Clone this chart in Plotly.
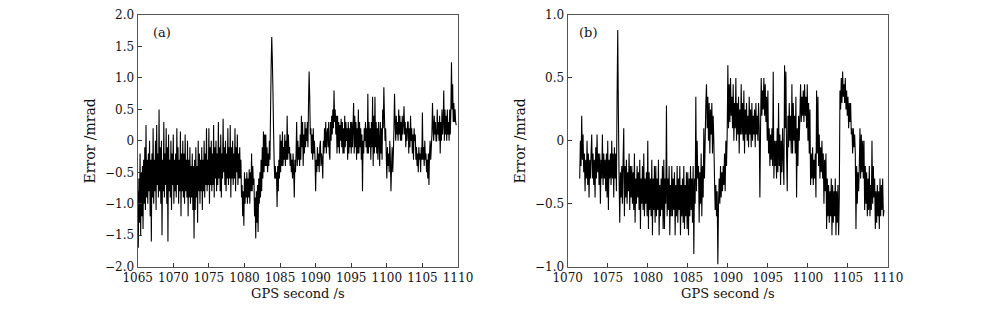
import numpy as np
import plotly.graph_objects as go

# ---------------- data ----------------
# Panel (a): samples every 1/12 s starting at 1065.0 s
t0_a = 1065.0
dt_a = 1.0 / 12.0
err_a = [
    -0.8, -1.7, -0.6, -1.3, -0.2, -1.5, -0.5, -1.2, -0.4, -1.4, -0.3, -1.0,
    -0.1, -1.1, 0.25, -0.9, -0.3, -1.0, -0.2, -0.8, 0.0, -1.2, -0.3, -1.6,
    -0.2, -0.9, 0.2, -1.0, -0.3, -0.8, 0.0, -1.1, 0.25, -0.7, -0.2, -0.9,
    0.5, -0.8, -0.1, -1.0, 0.0, -1.5, -0.3, -0.8, 0.3, -0.9, -0.2, -0.7,
    0.2, -1.0, -0.1, -1.6, 0.1, -0.8, -0.3, -0.9, 0.0, -1.1, -0.2, -0.7,
    0.1, -1.0, -0.3, -0.8, -0.2, -0.9, 0.2, -0.7, -0.1, -1.0, -0.3, -0.8,
    0.15, -1.2, -0.2, -0.8, 0.0, -0.9, -0.2, -1.0, 0.1, -0.8, -0.3, -0.9,
    0.0, -1.2, -0.3, -0.9, -0.1, -1.0, -0.4, -0.9, -0.2, -1.1, -0.4, -1.55,
    -0.3, -1.1, -0.1, -0.9, -0.4, -1.3, 0.0, -0.8, -0.2, -1.0, -0.3, -0.8,
    -0.1, -1.1, -0.3, -0.8, 0.0, -0.9, -0.2, -0.7, 0.2, -0.8, -0.3, -0.7,
    0.2, -1.0, -0.1, -0.7, 0.0, -0.8, -0.2, -0.7, 0.25, -0.9, -0.1, -0.6,
    0.0, -0.8, -0.2, -0.7, 0.3, -0.6, -0.1, -0.8, 0.1, -0.9, -0.2, -0.6,
    0.35, -0.5, -0.1, -0.7, 0.0, -0.8, -0.2, -0.6, 0.2, -0.7, -0.1, -0.6,
    0.25, -0.9, -0.1, -0.6, 0.0, -0.7, -0.2, -0.6, 0.2, -0.8, -0.1, -0.5,
    0.1, -0.7, -0.2, -0.6, -0.1, -0.6, -0.3, -0.9, -0.7, -1.2, -0.8, -1.35,
    -0.5, -1.0, -0.6, -0.9, -0.5, -1.0, -0.6, -0.9, -0.45, -1.0, -0.5, -0.8,
    -0.2, -0.8, -0.4, -0.7, -0.6, -1.2, -0.9, -1.55, -0.8, -1.3, -0.7, -1.45,
    -0.6, -1.0, -0.5, -0.9, -0.3, -0.8, -0.1, -0.6, 0.15, -0.5, 0.1, -0.4,
    0.1, -0.4, -0.1, -0.5, -0.2, -0.4, 0.0, -0.3, 0.5, 1.2, 1.65, 1.3,
    0.8, 0.2, -0.3, -0.6, -0.4, -0.6, -0.5, -1.05, -0.4, -0.8, -0.3, -0.6,
    0.1, -0.5, 0.0, -0.4, 0.15, -0.4, -0.1, -0.3, 0.1, -0.4, 0.0, -0.3,
    0.4, -0.3, 0.1, -0.2, -0.1, -0.4, -0.2, -0.5, -0.3, -0.6, -0.2, -0.5,
    -0.9, -0.3, -0.5, -0.2, 0.3, -0.4, 0.0, -0.3, -0.1, -0.4, 0.1, -0.3,
    0.4, -0.1, 0.3, -0.4, 0.1, -0.2, 0.3, -0.1, 0.2, 0.0, 0.3, -0.1,
    0.6, 1.1, 0.7, 0.1, 0.2, -0.2, 0.1, -0.3, 0.2, -0.2, 0.0, -0.3,
    -0.8, -0.3, -0.5, -0.1, -0.4, -0.2, -0.5, -0.1, 0.0, -0.4, -0.2, -0.3,
    -0.6, 0.0, -0.2, 0.2, -0.1, 0.3, -0.2, 0.1, 0.2, -0.1, 0.3, -0.2,
    -0.3, 0.3, 0.0, 0.4, 0.1, 0.5, 0.2, 0.8, 0.3, 0.5, 0.1, 0.4,
    -0.2, 0.4, -0.1, 0.3, -0.2, 0.25, 0.0, 0.35, -0.1, 0.3, -0.2, 0.2,
    -0.2, 0.4, -0.1, 0.3, 0.0, 0.2, -0.3, 0.3, -0.2, 0.2, -0.1, 0.3,
    -0.2, 0.3, -0.1, 0.2, 0.6, -0.2, 0.4, -0.1, 0.3, -0.3, 0.2, -0.2,
    0.5, -0.2, 0.3, -0.1, 0.2, -0.3, 0.1, -0.8, 0.0, -0.2, 0.2, 0.0,
    0.3, -0.1, 0.2, -0.2, 0.75, -0.2, 0.3, -0.1, 0.2, -0.3, 0.3, -0.1,
    0.7, -0.4, 0.4, -0.2, 0.7, -0.1, 0.3, -0.2, 0.2, -0.3, 0.3, 0.0,
    -0.4, 0.3, -0.2, 0.2, -0.3, 0.5, 0.2, 0.85, 0.4, 0.0, 0.2, -0.2,
    -0.6, -0.1, -0.4, -0.2, -0.5, 0.0, -0.3, -0.8, -0.4, -0.1, -0.5, -0.2,
    0.2, 0.75, 0.3, 0.0, 0.4, 0.1, 0.3, 0.0, 0.5, 0.1, 0.4, 0.0,
    0.3, 0.0, 0.4, 0.1, 0.3, 0.55, 0.1, 0.3, -0.1, 0.2, 0.0, 0.3,
    0.3, -0.2, 0.2, -0.1, 0.4, 0.0, 0.2, -0.2, 0.1, -0.3, 0.2, 0.0,
    0.1, -0.3, -0.1, -0.4, -0.2, -0.5, -0.1, -0.3, -0.2, -0.5, -0.1, -0.3,
    0.45, -0.3, -0.1, -0.4, 0.0, -0.3, -0.2, -0.5, -0.3, -0.6, -0.2, -0.7,
    -0.2, 0.0, -0.3, -0.1, 0.1, 0.6, 0.2, 0.0, 0.4, 0.1, 0.3, 0.0,
    0.0, 0.5, 0.1, 0.3, 0.0, 0.4, -0.2, 0.3, 0.0, 0.5, 0.1, 0.3,
    0.8, 0.0, 0.5, 0.1, 0.4, 0.0, 0.5, 0.1, 0.3, 0.0, 0.5, 0.1,
    0.5, 1.25, 0.5, 0.9, 0.3, 0.6, 0.3, 0.5, 0.3, 0.25,
]

# Panel (b): samples every 1/12 s starting at 1071.5 s
t0_b = 1071.5
dt_b = 1.0 / 12.0
err_b = [
    -0.3, 0.0, -0.2, 0.2, -0.15, 0.05,
    -0.25, -0.1, -0.4, -0.15, -0.3, 0.0, -0.35, -0.1, -0.45, -0.15, -0.3, -0.1,
    0.05, -0.3, -0.1, -0.35, -0.15, -0.45, -0.05, -0.3, 0.05, -0.25, -0.1, -0.35,
    -0.1, -0.5, -0.15, -0.3, 0.05, -0.35, -0.1, -0.3, -0.15, -0.4, -0.1, -0.45,
    0.0, -0.55, -0.15, -0.3, -0.1, -0.35, 0.0, -0.3, -0.1, -0.45, -0.05, -0.3,
    -0.1, -0.4, 0.35, 0.88, 0.2, -0.3, -0.65, -0.25, -0.45, -0.2, -0.5, -0.15,
    0.1, -0.6, -0.2, -0.45, -0.15, -0.5, -0.25, -0.4, -0.1, -0.55, -0.2, -0.45,
    -0.2, -0.5, -0.25, -0.55, -0.1, -0.65, -0.3, -0.5, -0.2, -0.45, -0.25, -0.55,
    -0.15, -0.7, -0.3, -0.5, -0.2, -0.55, -0.1, -0.6, -0.3, -0.5, -0.25, -0.6,
    0.0, -0.7, -0.25, -0.55, -0.3, -0.6, -0.15, -0.75, -0.3, -0.55, -0.2, -0.65,
    -0.2, -0.6, -0.3, -0.55, -0.15, -0.75, -0.35, -0.6, -0.3, -0.55, -0.2, -0.7,
    -0.15, -0.7, -0.3, -0.5, 0.28, -0.6, -0.3, -0.55, -0.2, -0.75, -0.35, -0.6,
    -0.2, -0.6, -0.3, -0.55, -0.25, -0.75, -0.35, -0.6, -0.2, -0.65, -0.3, -0.55,
    -0.2, -0.75, -0.35, -0.6, -0.3, -0.65, -0.2, -0.7, -0.35, -0.6, -0.25, -0.7,
    -0.25, -0.75, -0.3, -0.6, -0.2, -0.55, -0.3, -0.65, -0.2, -0.9, -0.3, -0.5,
    0.35, -0.4, 0.0, -0.3, -0.2, -0.65, -0.25, -0.5, -0.1, -0.6, -0.2, -0.45,
    0.1, -0.3, 0.0, 0.3, 0.45, 0.1, 0.35, 0.0, 0.3, -0.1, 0.25, 0.05,
    0.3, -0.1, 0.2, 0.0, -0.3, -0.55, -0.35, -0.6, -0.4, -0.98, -0.5, -0.3,
    -0.5, -0.2, -0.45, -0.25, -0.4, -0.2, -0.35, -0.1, -0.4, 0.0, -0.2, 0.05,
    0.6, 0.1, 0.45, 0.15, 0.5, 0.2, 0.35, 0.1, 0.45, 0.0, 0.3, 0.1,
    0.5, 0.0, 0.3, 0.05, 0.35, -0.1, 0.25, 0.05, 0.45, 0.05, 0.3, 0.0,
    0.4, -0.1, 0.25, 0.05, 0.3, 0.0, 0.2, -0.05, 0.35, 0.05, 0.25, -0.05,
    0.3, 0.0, 0.2, 0.05, 0.25, -0.05, 0.3, 0.05, 0.2, 0.0, 0.3, 0.1,
    -0.45, 0.1, 0.5, 0.2, 0.4, 0.25, 0.5, 0.2, 0.45, 0.15, 0.35, 0.0,
    0.4, -0.1, 0.1, -0.2, 0.05, -0.15, 0.1, -0.2, 0.55, -0.3, 0.0, -0.2,
    0.0, -0.3, 0.1, -0.25, 0.3, -0.2, 0.05, -0.35, 0.0, -0.25, 0.1, -0.15,
    -0.35, 0.6, 0.1, 0.55, -0.1, -0.4, 0.2, -0.05, 0.3, 0.0, 0.2, -0.1,
    0.45, -0.1, 0.3, 0.0, 0.2, -0.1, 0.35, -0.45, 0.1, -0.2, 0.2, 0.0,
    0.2, 0.45, 0.15, 0.35, 0.2, 0.4, 0.15, 0.45, 0.2, 0.35, 0.1, 0.45,
    0.0, 0.3, -0.1, 0.25, -0.35, -0.1, -0.3, -0.05, -0.35, -0.15, -0.3, -0.1,
    -0.45, 0.4, -0.1, 0.35, -0.2, 0.05, -0.3, -0.05, -0.25, 0.0, -0.3, -0.1,
    -0.5, -0.15, -0.4, -0.1, -0.7, -0.3, -0.6, -0.35, -0.65, -0.4, -0.6, -0.3,
    -0.75, -0.35, -0.65, -0.4, -0.6, -0.3, -0.75, -0.4, -0.65, -0.35, -0.75, -0.45,
    0.4, 0.25, 0.5, 0.3, 0.55, 0.35, 0.45, 0.3, 0.5, 0.25, 0.4, 0.2,
    0.35, 0.1, 0.3, 0.15, 0.3, 0.05, 0.1, -0.1, 0.1, -0.05, 0.05, -0.1,
    -0.7, -0.2, -0.5, -0.25, -0.4, -0.2, 0.1, -0.3, 0.05, -0.25, 0.0, -0.3,
    0.0, -0.55, -0.2, -0.5, -0.25, -0.6, -0.3, -0.55, -0.2, -0.6, -0.35, -0.55,
    0.0, -0.5, -0.2, -0.45, -0.3, -0.7, -0.4, -0.65, -0.35, -0.6, -0.4, -0.7,
    -0.3, -0.6, -0.35, -0.55, -0.3, -0.6, -0.55,
]

xticks_a = [1065, 1070, 1075, 1080, 1085, 1090, 1095, 1100, 1105, 1110]
xticks_b = [1070, 1075, 1080, 1085, 1090, 1095, 1100, 1105, 1110]
yticks_a = [-2.0, -1.5, -1.0, -0.5, 0, 0.5, 1.0, 1.5, 2.0]
ytext_a = ["\u22122.0", "\u22121.5", "\u22121.0", "\u22120.5", "0", "0.5", "1.0", "1.5", "2.0"]
yticks_b = [-1.0, -0.5, 0, 0.5, 1.0]
ytext_b = ["\u22121.0", "\u22120.5", "0", "0.5", "1.0"]
panel_labels = ["(a)", "(b)"]
x_title = "GPS second /s"
y_title = "Error /mrad"

t_a = t0_a + dt_a * np.arange(len(err_a))
t_b = t0_b + dt_b * np.arange(len(err_b))

# ---------------- figure ----------------
FONT = "DejaVu Serif"
OFF = 8  # page body margin of the html output
W, H = 1000 - 2 * OFF, 310 - 2 * OFF

fig = go.Figure()
fig.add_trace(go.Scatter(x=t_a, y=err_a, mode="lines", line=dict(color="black", width=1.1, simplify=False),
                         xaxis="x", yaxis="y", showlegend=False))
fig.add_trace(go.Scatter(x=t_b, y=err_b, mode="lines", line=dict(color="black", width=1.1, simplify=False),
                         xaxis="x2", yaxis="y2", showlegend=False))


def fx(px):
    return (px - OFF) / W


def fy(py):
    return 1 - (py - OFF) / H


common_x = dict(showgrid=False, zeroline=False, ticks="inside", ticklen=4, tickcolor="#333",
                showline=True, linecolor="#555", linewidth=1.2, mirror=True, automargin=False,
                tickfont=dict(family=FONT, size=12, color="#111"),
                title=dict(text=x_title, font=dict(family=FONT, size=13, color="#111"), standoff=4))
common_y = dict(showgrid=False, zeroline=False, ticks="inside", ticklen=4, tickcolor="#333",
                showline=True, linecolor="#555", linewidth=1.2, mirror=True, automargin=False,
                tickfont=dict(family=FONT, size=12, color="#111"),
                title=dict(text=y_title, font=dict(family=FONT, size=14, color="#111"), standoff=6))

fig.update_layout(
    width=W, height=H, margin=dict(l=0, r=0, t=0, b=0, autoexpand=False),
    paper_bgcolor="white", plot_bgcolor="white",
    xaxis=dict(common_x, domain=[fx(137.7), fx(458)], range=[1065, 1110],
               tickvals=xticks_a, anchor="y"),
    yaxis=dict(common_y, domain=[fy(266.7), fy(15)], range=[-2, 2],
               tickvals=yticks_a, ticktext=ytext_a, anchor="x"),
    xaxis2=dict(common_x, domain=[fx(567.7), fx(888)], range=[1070, 1110],
                tickvals=xticks_b, anchor="y2"),
    yaxis2=dict(common_y, domain=[fy(266.7), fy(15)], range=[-1, 1],
                tickvals=yticks_b, ticktext=ytext_b, anchor="x2"),
    annotations=[
        dict(text=panel_labels[0], xref="x domain", yref="y domain", x=0.04, y=0.93,
             xanchor="left", yanchor="middle", showarrow=False,
             font=dict(family=FONT, size=13, color="#111")),
        dict(text=panel_labels[1], xref="x2 domain", yref="y2 domain", x=0.03, y=0.93,
             xanchor="left", yanchor="middle", showarrow=False,
             font=dict(family=FONT, size=13, color="#111")),
    ],
)

fig.write_html("out.html")
